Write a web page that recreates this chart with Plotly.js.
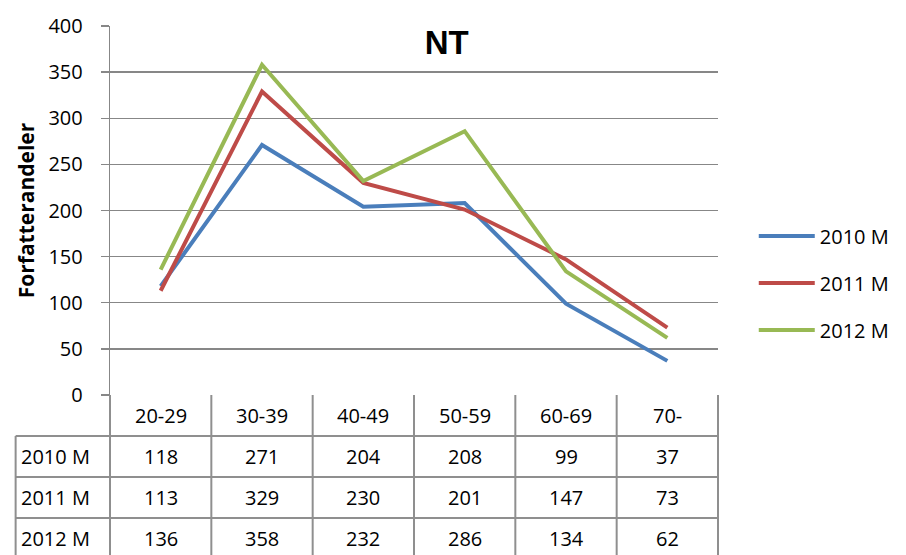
<!DOCTYPE html>
<html>
<head>
<meta charset="utf-8">
<script src="https://cdn.plot.ly/plotly-3.0.1.min.js"></script>
<style>html,body{margin:0;padding:0;background:#fff;}#chart{width:906px;height:555px;}</style>
</head>
<body>
<div id="chart"></div>
<script>
const categories = ['20-29', '30-39', '40-49', '50-59', '60-69', '70-'];
const seriesNames = ['2010 M', '2011 M', '2012 M'];
const values2010 = [118, 271, 204, 208, 99, 37];
const values2011 = [113, 329, 230, 201, 147, 73];
const values2012 = [136, 358, 232, 286, 134, 62];
const yTickValues = [0, 50, 100, 150, 200, 250, 300, 350, 400];
const chartTitle = 'NT';
const yAxisTitle = 'Forfatterandeler';

const seriesValues = [values2010, values2011, values2012];
const colors = ['#4A7EBB', '#BE4B48', '#98B954'];
const gridColor = '#878787';
const tableColor = '#8F8F8F';
const font = '"Open Sans", Lato, sans-serif';

const plotH = 555 - 26 - 160;
const rowH = 41 / plotH;
const leftCol = -95 / 612;
const nCat = categories.length;

const traces = seriesNames.map((name, i) => ({
  type: 'scatter',
  mode: 'lines',
  name: name,
  x: categories,
  y: seriesValues[i],
  line: {color: colors[i], width: 4},
  legendgroup: name,
  hoverinfo: 'skip'
}));

const shapes = [];
// horizontal table lines
for (let k = 1; k <= 4; k++) {
  shapes.push({type: 'line', xref: 'paper', yref: 'paper', x0: leftCol, x1: 1,
    y0: -k * rowH, y1: -k * rowH, line: {color: tableColor, width: 2}});
}
// vertical table lines at category boundaries
for (let i = 0; i <= nCat; i++) {
  shapes.push({type: 'line', xref: 'paper', yref: 'paper', x0: i / nCat, x1: i / nCat,
    y0: 0, y1: -4.2 * rowH, line: {color: tableColor, width: 2}});
}
// left label column border
shapes.push({type: 'line', xref: 'paper', yref: 'paper', x0: leftCol, x1: leftCol,
  y0: -rowH, y1: -4.2 * rowH, line: {color: tableColor, width: 2}});

const cellFont = {family: font, size: 20, color: '#000'};
const annotations = [];
categories.forEach((c, j) => {
  annotations.push({xref: 'x', yref: 'paper', x: c, y: -0.5 * rowH, text: c,
    showarrow: false, xanchor: 'center', yanchor: 'middle', font: cellFont});
  seriesValues.forEach((vals, i) => {
    annotations.push({xref: 'x', yref: 'paper', x: c, y: -(i + 1.5) * rowH, text: String(vals[j]),
      showarrow: false, xanchor: 'center', yanchor: 'middle', font: cellFont});
  });
});
seriesNames.forEach((n, i) => {
  annotations.push({xref: 'paper', yref: 'paper', x: -92 / 612, y: -(i + 1.5) * rowH, text: n,
    showarrow: false, xanchor: 'left', yanchor: 'middle', font: cellFont});
});

const layout = {
  width: 906, height: 555,
  margin: {l: 110, r: 184, t: 26, b: 160},
  paper_bgcolor: '#fff', plot_bgcolor: '#fff',
  font: cellFont,
  title: {text: '<b>' + chartTitle + '</b>', font: {family: '"Liberation Sans", Arial, sans-serif', size: 33, color: '#000'},
    x: (449 - 110) / 612, xref: 'paper', xanchor: 'center', y: 1 - 42 / 555, yref: 'container', yanchor: 'middle'},
  xaxis: {type: 'category', range: [-0.5, nCat - 0.5], showticklabels: false, showgrid: false,
    zeroline: false, showline: false, ticks: '', fixedrange: true},
  yaxis: {range: [0, 400], tickvals: yTickValues, ticktext: yTickValues.map(String),
    showgrid: true, gridcolor: gridColor, gridwidth: 1.3, zeroline: false,
    showline: true, linecolor: gridColor, linewidth: 1.3,
    ticks: 'outside', ticklen: 8, tickcolor: gridColor, tickwidth: 1.3, ticklabelstandoff: 14,
    tickfont: cellFont,
    title: {text: '<b>' + yAxisTitle + '</b>', font: {family: font, size: 21, color: '#000'}, standoff: 8},
    fixedrange: true},
  showlegend: true,
  legend: {x: (758 - 110) / 612, xanchor: 'left', y: (395 - 283) / plotH, yanchor: 'middle',
    font: cellFont, itemwidth: 56, traceorder: 'grouped', tracegroupgap: 18,
    bgcolor: 'rgba(0,0,0,0)'},
  shapes: shapes,
  annotations: annotations
};

Plotly.newPlot('chart', traces, layout, {staticPlot: true, displayModeBar: false});
</script>
</body>
</html>
